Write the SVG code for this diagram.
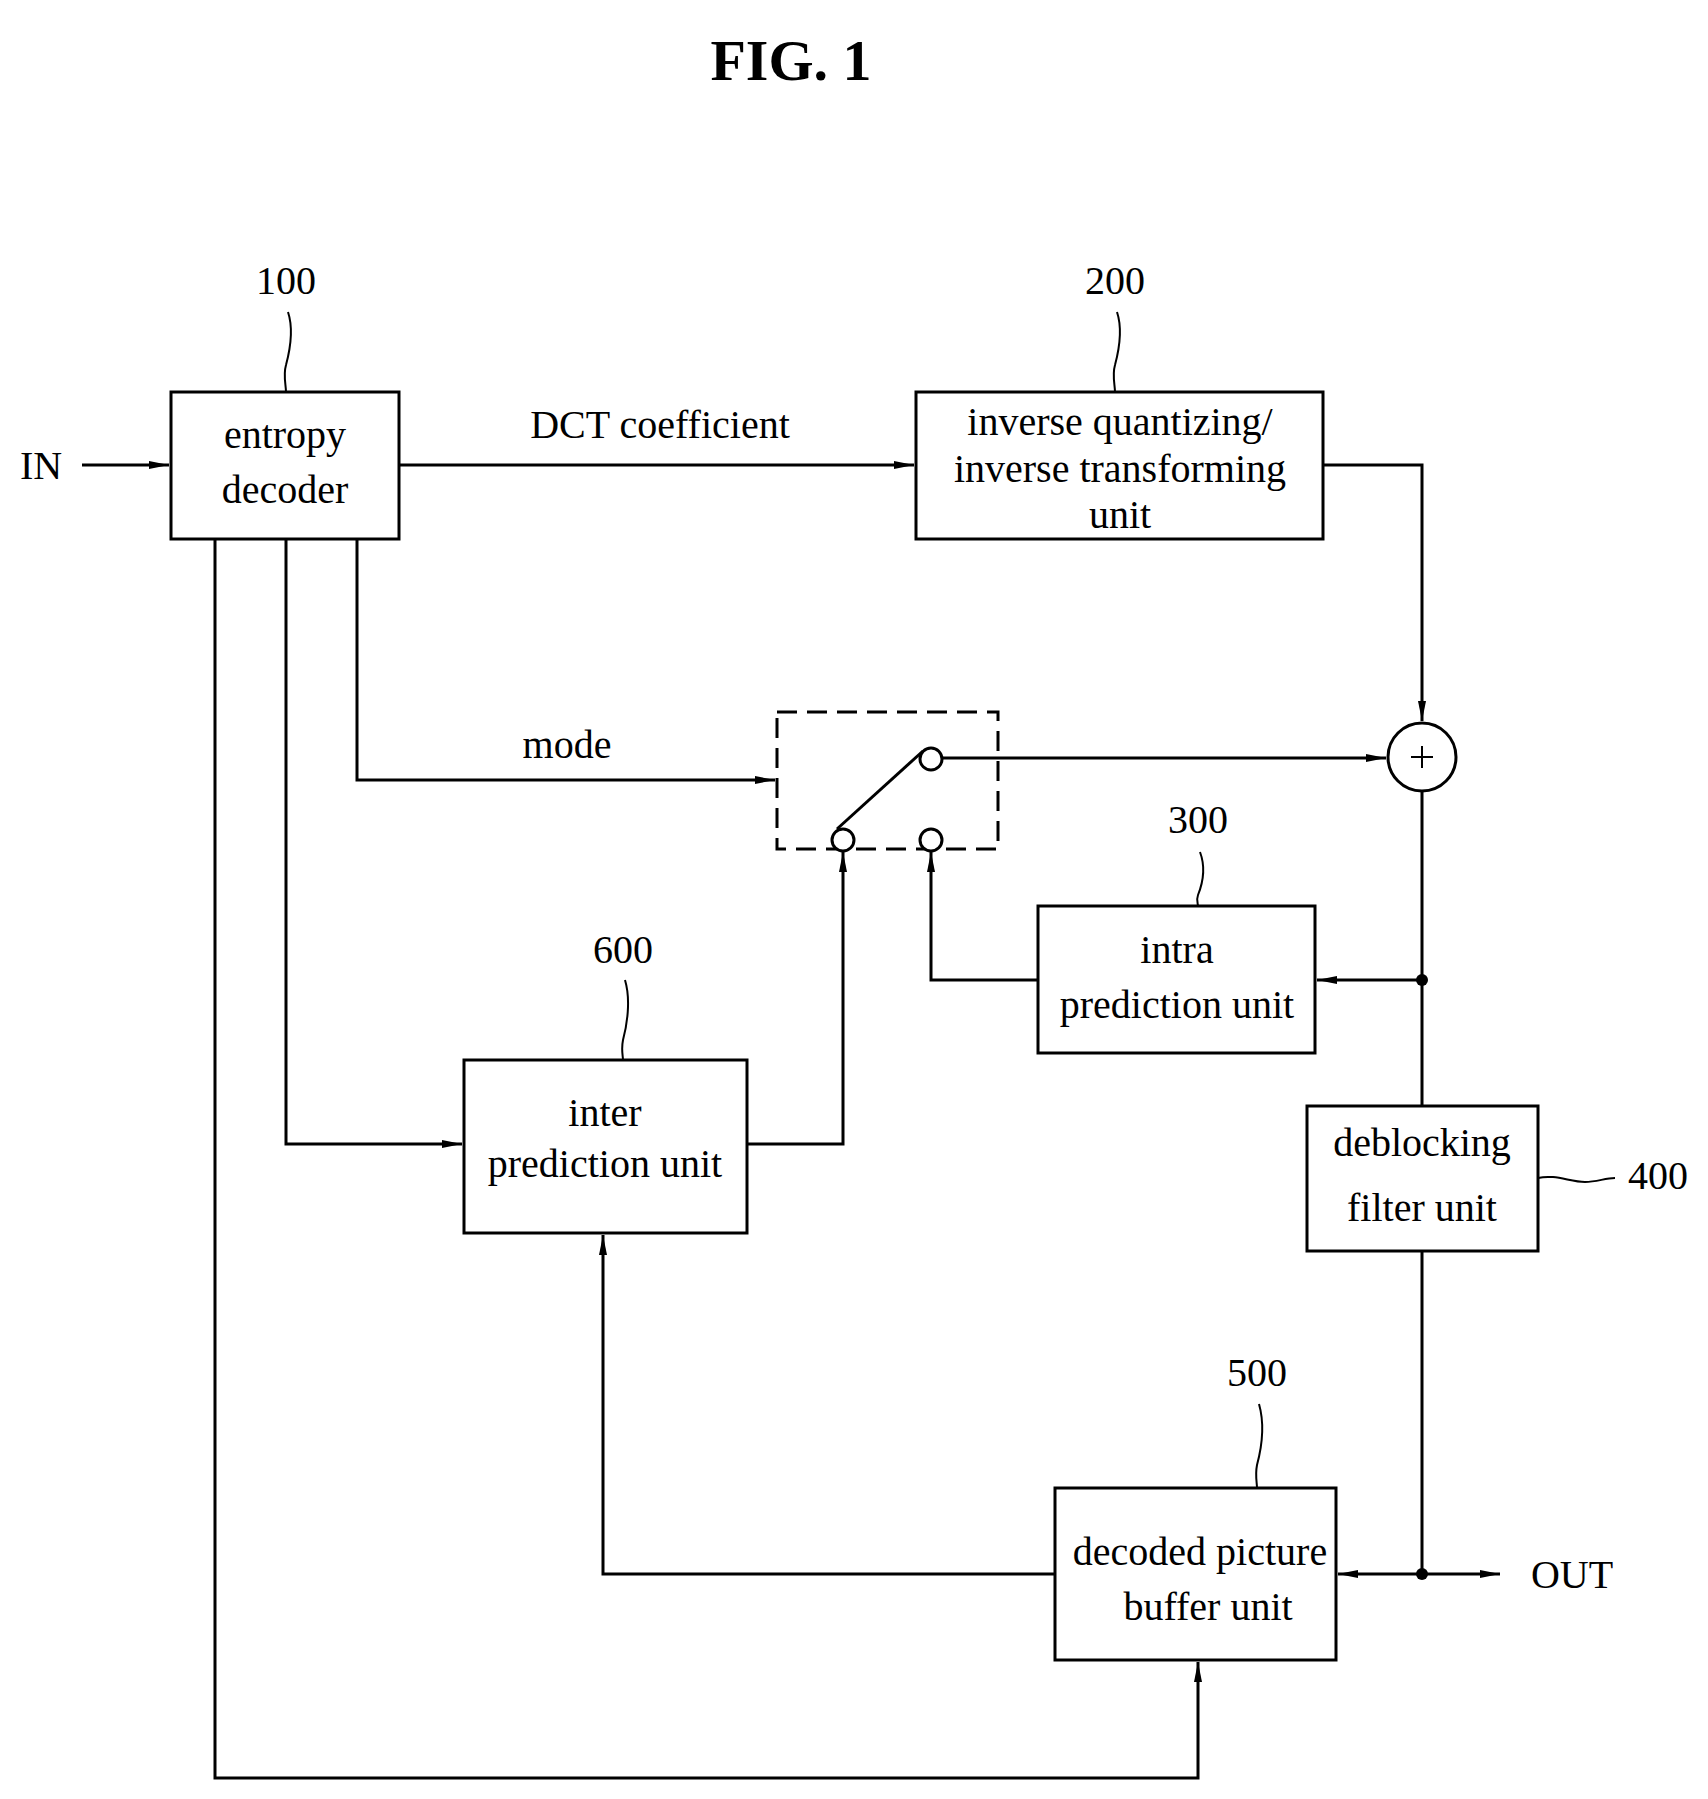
<svg xmlns="http://www.w3.org/2000/svg" width="1708" height="1799" viewBox="0 0 1708 1799">
<style>
text{font-family:"Liberation Serif","Times New Roman",serif;fill:#000;text-anchor:middle}
.t{font-size:40px}
.n{font-size:40px}
.box{fill:#fff;stroke:#000;stroke-width:3}
.w{fill:none;stroke:#000;stroke-width:3}
.ld{fill:none;stroke:#000;stroke-width:2}
</style>
<defs>
<marker id="b" viewBox="0 0 20 10" refX="20" refY="5" markerWidth="20" markerHeight="10" markerUnits="userSpaceOnUse" orient="auto"><path d="M0,1 L20,5 L0,9 Z" fill="#000"/></marker>
</defs>
<text x="791" y="80" style="font-size:58px;font-weight:bold">FIG. 1</text>

<g id="connectors">
<path class="w" d="M82,465 H169" marker-end="url(#b)"/>
<path class="w" d="M399,465 H914" marker-end="url(#b)"/>
<path class="w" d="M1323,465 H1422 V721" marker-end="url(#b)"/>
<path class="w" d="M357,539 V780 H775" marker-end="url(#b)"/>
<path class="w" d="M942,758 H1386" marker-end="url(#b)"/>
<path class="w" d="M286,539 V1144 H462" marker-end="url(#b)"/>
<path class="w" d="M215,539 V1778 H1198 V1662" marker-end="url(#b)"/>
<path class="w" d="M747,1144 H843 V852" marker-end="url(#b)"/>
<path class="w" d="M1038,980 H931 V852" marker-end="url(#b)"/>
<path class="w" d="M1422,791 V1106"/>
<path class="w" d="M1422,980 H1317" marker-end="url(#b)"/>
<path class="w" d="M1422,1251 V1574"/>
<path class="w" d="M1422,1574 H1338" marker-end="url(#b)"/>
<path class="w" d="M1422,1574 H1500" marker-end="url(#b)"/>
<path class="w" d="M1055,1574 H603 V1235" marker-end="url(#b)"/>
<circle cx="1422" cy="980" r="6" fill="#000"/>
<circle cx="1422" cy="1574" r="6" fill="#000"/>
</g>

<g id="in"><text class="t" x="41" y="479">IN</text></g>
<g id="out"><text class="t" x="1572" y="1588">OUT</text></g>
<g id="lbl-dct"><text class="t" x="660" y="438">DCT coefficient</text></g>
<g id="lbl-mode"><text class="t" x="567" y="758">mode</text></g>

<g id="n100">
<rect class="box" x="171" y="392" width="228" height="147"/>
<text class="t" x="285" y="448">entropy</text>
<text class="t" x="285" y="503">decoder</text>
<text class="n" x="286" y="294">100</text>
<path class="ld" d="M288,312 C294,330 290,350 286,365 C283,375 286,385 286,392"/>
</g>

<g id="n200">
<rect class="box" x="916" y="392" width="407" height="147"/>
<text class="t" x="1120" y="435">inverse quantizing/</text>
<text class="t" x="1120" y="482">inverse transforming</text>
<text class="t" x="1120" y="528">unit</text>
<text class="n" x="1115" y="294">200</text>
<path class="ld" d="M1117,312 C1123,330 1119,350 1115,365 C1112,375 1115,385 1115,392"/>
</g>

<g id="sum">
<circle cx="1422" cy="757" r="34" fill="#fff" stroke="#000" stroke-width="3"/>
<path class="ld" d="M1411,757 H1433 M1422,746 V768"/>
</g>

<g id="switch">
<rect x="777" y="712" width="221" height="137" fill="none" stroke="#000" stroke-width="3" stroke-dasharray="20,10"/>
<line class="w" x1="837" y1="829" x2="923" y2="751"/>
<circle cx="931" cy="759" r="11" fill="#fff" stroke="#000" stroke-width="3"/>
<circle cx="843" cy="840" r="11" fill="#fff" stroke="#000" stroke-width="3"/>
<circle cx="931" cy="840" r="11" fill="#fff" stroke="#000" stroke-width="3"/>
</g>

<g id="n300">
<rect class="box" x="1038" y="906" width="277" height="147"/>
<text class="t" x="1177" y="963">intra</text>
<text class="t" x="1177" y="1018">prediction unit</text>
<text class="n" x="1198" y="833">300</text>
<path class="ld" d="M1200,852 C1206,868 1202,885 1198,895 C1196,900 1198,904 1198,906"/>
</g>

<g id="n600">
<rect class="box" x="464" y="1060" width="283" height="173"/>
<text class="t" x="605" y="1126">inter</text>
<text class="t" x="605" y="1177">prediction unit</text>
<text class="n" x="623" y="963">600</text>
<path class="ld" d="M625,980 C631,1000 627,1025 623,1040 C621,1050 623,1056 623,1060"/>
</g>

<g id="n400">
<rect class="box" x="1307" y="1106" width="231" height="145"/>
<text class="t" x="1422" y="1156">deblocking</text>
<text class="t" x="1422" y="1221">filter unit</text>
<text class="n" x="1658" y="1189">400</text>
<path class="ld" d="M1538,1178 C1555,1174 1570,1182 1585,1182 C1597,1182 1605,1178 1615,1178"/>
</g>

<g id="n500">
<rect class="box" x="1055" y="1488" width="281" height="172"/>
<text class="t" x="1200" y="1565">decoded picture</text>
<text class="t" x="1208" y="1620">buffer unit</text>
<text class="n" x="1257" y="1386">500</text>
<path class="ld" d="M1259,1404 C1265,1425 1261,1450 1257,1465 C1255,1475 1257,1483 1257,1488"/>
</g>
</svg>
